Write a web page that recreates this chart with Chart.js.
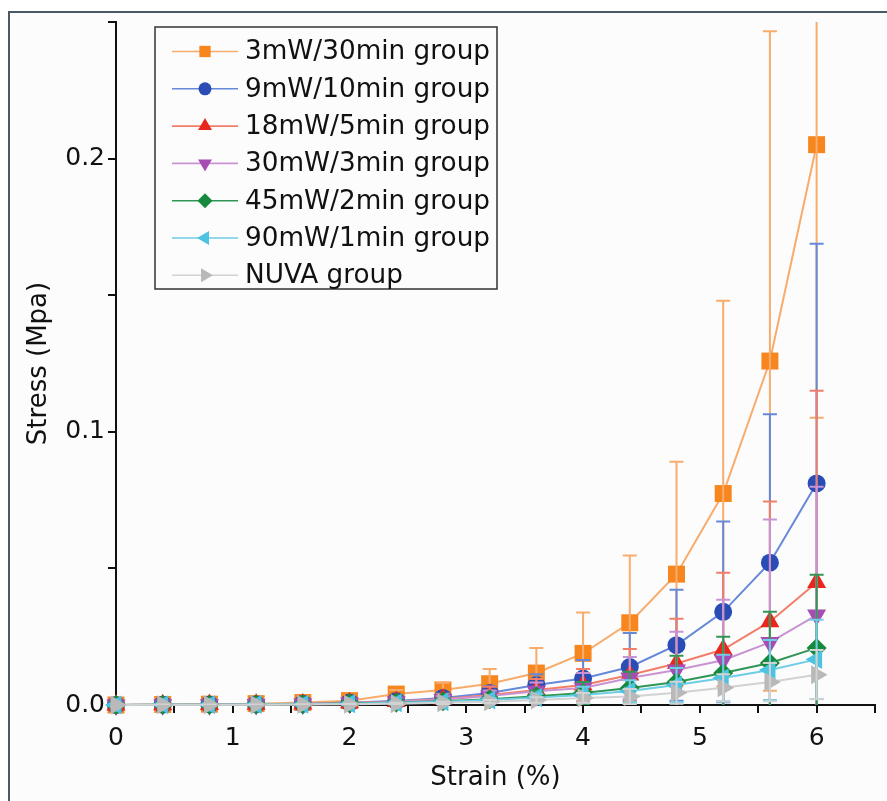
<!doctype html>
<html lang="en">
<head>
  <meta charset="utf-8">
  <title>stress-strain</title>
  <style>
    body { margin: 0; background: #fff; }
    #chart { display: block; }
  </style>
</head>
<body>
  <canvas id="chart" width="887" height="801"></canvas>

  <script src="https://cdn.jsdelivr.net/npm/chart.js@4/dist/chart.umd.min.js"></script>
  <script>

  // strain (%) sampling points
  const strain = [0, 0.4, 0.8, 1.2, 1.6, 2.0, 2.4, 2.8, 3.2, 3.6, 4.0, 4.4, 4.8, 5.2, 5.6, 6.0];

  const groupNames = ['3mW/30min group', '9mW/10min group', '18mW/5min group', '30mW/3min group',
                      '45mW/2min group', '90mW/1min group', 'NUVA group'];

  // mean stress (MPa) and error per group
  const g3mw = [0, 0.0002, 0.0003, 0.0005, 0.0009, 0.0016, 0.0040, 0.0055, 0.0078, 0.0117, 0.0189, 0.0301, 0.0479, 0.0774, 0.1259, 0.2051];
  const g3mwErr = [0, 0.0001, 0.0002, 0.0003, 0.0005, 0.0008, 0.0015, 0.0026, 0.0054, 0.0092, 0.0150, 0.0246, 0.0411, 0.0706, 0.1207, 0.1000];

  const g9mw = [0, 0.0001, 0.0002, 0.0003, 0.0005, 0.0009, 0.0015, 0.0026, 0.0044, 0.0073, 0.0097, 0.0139, 0.0219, 0.0341, 0.0521, 0.0811];
  const g9mwErr = [0, 0.0001, 0.0001, 0.0002, 0.0003, 0.0005, 0.0009, 0.0015, 0.0025, 0.0040, 0.0068, 0.0125, 0.0203, 0.0331, 0.0543, 0.0877];

  const g18mw = [0, 0.0001, 0.0002, 0.0003, 0.0004, 0.0008, 0.0013, 0.0022, 0.0037, 0.0055, 0.0073, 0.0110, 0.0152, 0.0203, 0.0305, 0.0448];
  const g18mwErr = [0, 0.0001, 0.0001, 0.0002, 0.0003, 0.0006, 0.0010, 0.0017, 0.0030, 0.0040, 0.0059, 0.0095, 0.0164, 0.0281, 0.0440, 0.0702];

  const g30mw = [0, 0.0001, 0.0001, 0.0002, 0.0004, 0.0007, 0.0012, 0.0020, 0.0033, 0.0050, 0.0062, 0.0099, 0.0128, 0.0164, 0.0229, 0.0329];
  const g30mwErr = [0, 0.0001, 0.0001, 0.0001, 0.0002, 0.0004, 0.0007, 0.0012, 0.0020, 0.0032, 0.0055, 0.0077, 0.0140, 0.0221, 0.0450, 0.0470];

  const g45mw = [0, 0.0001, 0.0001, 0.0002, 0.0003, 0.0006, 0.0009, 0.0014, 0.0021, 0.0032, 0.0044, 0.0062, 0.0084, 0.0117, 0.0154, 0.0209];
  const g45mwErr = [0, 0.0001, 0.0001, 0.0001, 0.0002, 0.0003, 0.0005, 0.0008, 0.0013, 0.0020, 0.0040, 0.0060, 0.0096, 0.0133, 0.0187, 0.0268];

  const g90mw = [0, 0.0001, 0.0001, 0.0002, 0.0003, 0.0005, 0.0008, 0.0012, 0.0018, 0.0027, 0.0037, 0.0051, 0.0073, 0.0099, 0.0128, 0.0167];
  const g90mwErr = [0, 0.0001, 0.0001, 0.0001, 0.0001, 0.0002, 0.0003, 0.0005, 0.0008, 0.0014, 0.0030, 0.0040, 0.0062, 0.0085, 0.0110, 0.0145];

  const nuva = [0, 0.0001, 0.0001, 0.0001, 0.0002, 0.0003, 0.0005, 0.0008, 0.0012, 0.0018, 0.0026, 0.0031, 0.0045, 0.0063, 0.0084, 0.0111];
  const nuvaErr = [0, 0.0001, 0.0001, 0.0001, 0.0001, 0.0002, 0.0003, 0.0004, 0.0006, 0.0010, 0.0018, 0.0028, 0.0040, 0.0050, 0.0070, 0.0090];

  const values = [g3mw, g9mw, g18mw, g30mw, g45mw, g90mw, nuva];
  const errors = [g3mwErr, g9mwErr, g18mwErr, g30mwErr, g45mwErr, g90mwErr, nuvaErr];

  const markColors = ['#f7861e', '#2a4db5', '#e8261c', '#a64cb3', '#168a3c', '#4ec3e0', '#b9b9b9'];
  const lineColors = ['#f8ac6c', '#6688d8', '#f27e6a', '#c993d2', '#2f9655', '#6fcde6', '#d2d2d2'];
  const styles = ['rect', 'circle', 'triangle', 'triangle', 'rectRot', 'triangle', 'triangle'];
  const rotations = [0, 0, 0, 180, 0, -90, 90];
  const radii = [12, 9, 11, 11, 10, 11, 11];
  const legendRadii = [8, 6.5, 8, 8, 7.5, 8, 8];

  const datasets = groupNames.map((name, k) => ({
    label: name,
    data: strain.map((x, i) => ({x: x, y: values[k][i]})),
    errors: errors[k],
    legendRadius: legendRadii[k],
    borderColor: lineColors[k],
    borderWidth: 2,
    backgroundColor: markColors[k],
    pointBackgroundColor: markColors[k],
    pointBorderColor: markColors[k],
    pointBorderWidth: 0,
    pointStyle: styles[k],
    pointRotation: rotations[k],
    pointRadius: radii[k],
    tension: 0,
    clip: false,
    order: groupNames.length - k,
  }));

  // white page with the grey frame round the figure
  const frame = {
    id: 'frame',
    beforeDraw(chart) {
      const ctx = chart.ctx;
      ctx.save();
      ctx.fillStyle = '#ffffff';
      ctx.fillRect(0, 0, chart.width, chart.height);
      ctx.fillStyle = '#fcfcfd';
      ctx.fillRect(9, 12, chart.width, chart.height);
      ctx.strokeStyle = '#4b5866';
      ctx.lineWidth = 2;
      ctx.strokeRect(9, 12, chart.width + 10, chart.height + 10);
      ctx.restore();
    }
  };

  const errorBars = {
    id: 'errorBars',
    afterDatasetDraw(chart, args) {
      const ds = chart.data.datasets[args.index];
      const ctx = chart.ctx;
      const area = chart.chartArea;
      const y = chart.scales.y;
      ctx.save();
      ctx.beginPath();
      ctx.rect(area.left - 20, area.top, area.right - area.left + 40, area.bottom - area.top);
      ctx.clip();
      ctx.strokeStyle = ds.borderColor;
      ctx.lineWidth = 2;
      args.meta.data.forEach((pt, i) => {
        const e = ds.errors[i];
        if (!e) return;
        const v = ds.data[i].y;
        const top = y.getPixelForValue(v + e);
        const bot = y.getPixelForValue(v - e);
        ctx.beginPath();
        ctx.moveTo(pt.x, top); ctx.lineTo(pt.x, bot);
        ctx.moveTo(pt.x - 7, top); ctx.lineTo(pt.x + 7, top);
        ctx.moveTo(pt.x - 7, bot); ctx.lineTo(pt.x + 7, bot);
        ctx.stroke();
      });
      ctx.restore();
    }
  };

  // legend box inside the plot, line sample with marker
  const boxLegend = {
    id: 'boxLegend',
    afterDraw(chart) {
      const ctx = chart.ctx;
      ctx.save();
      ctx.fillStyle = '#fcfcfd';
      ctx.fillRect(155, 27, 342, 262);
      ctx.strokeStyle = '#333';
      ctx.lineWidth = 1.5;
      ctx.strokeRect(155, 27, 342, 262);
      chart.data.datasets.forEach((ds, k) => {
        const cy = 51.5 + k * 37.3;
        ctx.strokeStyle = ds.borderColor;
        ctx.lineWidth = 1.6;
        ctx.beginPath();
        ctx.moveTo(172, cy); ctx.lineTo(238, cy);
        ctx.stroke();
        ctx.fillStyle = ds.pointBackgroundColor;
        ctx.strokeStyle = ds.pointBorderColor;
        Chart.helpers.drawPoint(ctx, {
          pointStyle: ds.pointStyle,
          rotation: ds.pointRotation,
          radius: ds.legendRadius,
          borderWidth: 0
        }, 205, cy);
        ctx.fillStyle = '#111';
        ctx.font = '26.3px "DejaVu Sans"';
        ctx.textBaseline = 'middle';
        ctx.textAlign = 'left';
        ctx.fillText(ds.label, 245, cy + 1);
      });
      ctx.restore();
    }
  };

  Chart.defaults.font.family = '"DejaVu Sans"';
  Chart.defaults.color = '#111';

  const canvas = document.getElementById('chart');
  new Chart(canvas.getContext('2d'), {
    type: 'line',
    data: { datasets: datasets },
    plugins: [frame, errorBars, boxLegend],
    options: {
      responsive: false,
      animation: false,
      layout: { padding: { left: 0, top: 22, right: 12, bottom: 0 } },
      plugins: { legend: { display: false }, tooltip: { enabled: false } },
      scales: {
        x: {
          type: 'linear',
          min: 0,
          max: 6.5,
          afterFit(scale) { scale.height = 96; },
          border: { display: true, color: '#111', width: 2 },
          grid: { drawOnChartArea: false, drawTicks: true, tickLength: 8, color: '#111', lineWidth: 2 },
          ticks: {
            stepSize: 0.5,
            autoSkip: false,
            maxRotation: 0,
            padding: 10,
            font: { size: 25 },
            callback: v => Number.isInteger(Math.round(v * 1000) / 1000) ? String(Math.round(v)) : ''
          },
          title: { display: true, text: 'Strain (%)', font: { size: 26 }, padding: { top: 0, bottom: 7 } }
        },
        y: {
          min: 0,
          max: 0.25,
          afterFit(scale) { scale.width = 116; },
          border: { display: true, color: '#111', width: 2 },
          grid: { drawOnChartArea: false, drawTicks: true, tickLength: 8, color: '#111', lineWidth: 2 },
          ticks: {
            stepSize: 0.05,
            autoSkip: false,
            padding: 3,
            font: { size: 25 },
            callback: v => Math.abs(v * 10 - Math.round(v * 10)) < 1e-6 ? v.toFixed(1) : ''
          },
          title: { display: true, text: 'Stress (Mpa)', font: { size: 26 }, padding: { top: 24, bottom: 0 } }
        }
      }
    }
  });
  </script>
</body>
</html>
